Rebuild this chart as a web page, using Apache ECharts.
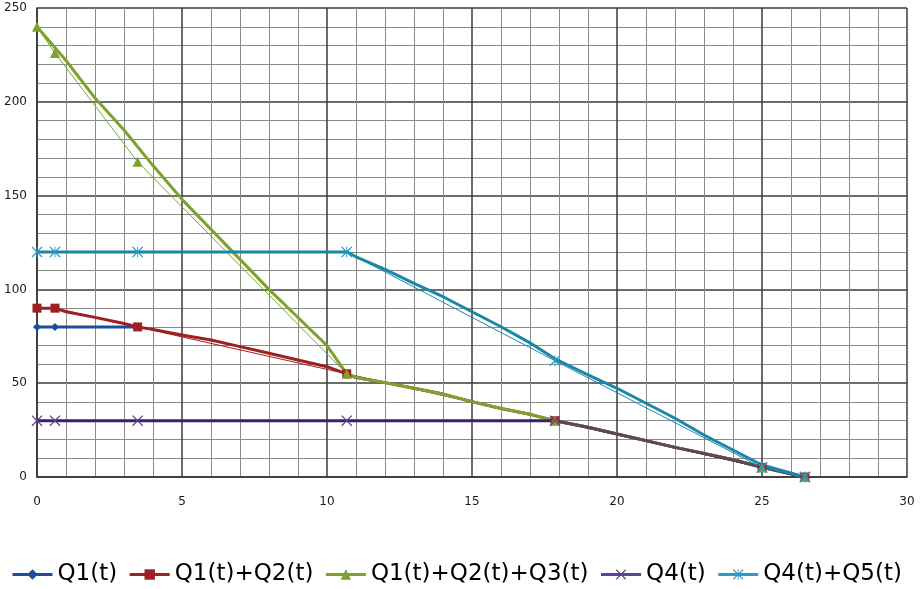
<!DOCTYPE html>
<html>
<head>
<meta charset="utf-8">
<script src="https://cdn.jsdelivr.net/npm/echarts@6/dist/echarts.min.js"></script>
<style>
    html, body { margin: 0; padding: 0; background: #fff; }
    #chart { width: 923px; height: 589px; }
</style>
</head>
<body>
<div id="chart"></div>
<script>
    var names = ['Q1(t)', 'Q1(t)+Q2(t)', 'Q1(t)+Q2(t)+Q3(t)', 'Q4(t)', 'Q4(t)+Q5(t)'];

    // points with markers (thin straight lines)
    var markT = [0, 0.62, 3.47, 10.68, 17.86, 25, 26.48];
    var q1Mark = [80, 80, 80];
    var q12Mark = [90, 90, 80, 55, 30, 5, 0];
    var q123Mark = [240, 226, 168, 55, 30, 5, 0];
    var q4Mark = [30, 30, 30, 30, 30, 5, 0];
    var q45Mark = [120, 120, 120, 120, 62, 5, 0];

    // simulated (thick) curves
    var q1SimT = [0, 3.47];
    var q1SimY = [80, 80];

    var q12SimT = [0, 0.62, 1, 2, 3, 3.47, 4, 5, 6, 7, 8, 9, 10];
    var q12SimY = [90, 90, 88.1, 85.1, 81.8, 80, 78.7, 75.7, 73, 69.5, 66, 62.4, 58.8];

    var q123SimT = [0, 1, 2, 3, 4, 5, 6, 7, 8, 9, 10];
    var q123SimY = [240, 222, 202, 185, 166, 148, 132, 116, 100, 85, 70];

    // common tail after t = 10.68
    var tailT = [10.68, 11, 12, 13, 14, 15, 16, 17, 17.86, 19, 20, 21, 22, 23, 24, 25, 26.48];
    var tailY = [55, 53, 50.3, 47.3, 44.2, 40.2, 36.5, 33.4, 30, 26.5, 22.9, 19.4, 15.8, 12.6, 9.2, 5.2, 0];

    var q4SimT = [0, 17.86];
    var q4SimY = [30, 30];
    // where every curve runs together (drawn greyish)
    var lowT = [17.86, 19, 20, 21, 22, 23, 24, 25, 26.48];
    var lowY = [30, 26.5, 22.9, 19.4, 15.8, 12.6, 9.2, 5.2, 0];

    var q45SimT = [0, 10.68, 11, 12, 13, 14, 15, 16, 17, 17.86, 19, 20, 21, 22, 23, 24, 25, 26.48];
    var q45SimY = [120, 120, 117.4, 110.7, 103.2, 96.1, 88.1, 80.1, 71.5, 63, 54.4, 47.3, 39.3, 31.3, 22.4, 14.4, 6.4, 0];

    var colors = ['#1b4f9c', '#9e2020', '#7ba32e', '#3d2069', '#1c86a8'];
    var markColors = ['#1b4f9c', '#9e2020', '#7ba32e', '#5e4390', '#2a9cc0'];
    var xMark = 'path://M0,0.8L0.8,0L5,4.2L9.2,0L10,0.8L5.8,5L10,9.2L9.2,10L5,5.8L0.8,10L0,9.2L4.2,5Z';
    var starMark = 'path://M0,0.8L0.8,0L5,4.2L9.2,0L10,0.8L5.8,5L10,9.2L9.2,10L5,5.8L0.8,10L0,9.2L4.2,5Z M4.6,0L5.4,0L5.4,10L4.6,10Z';
    var symbols = ['diamond', 'rect', 'triangle', xMark, starMark];
    var symbolSizes = [8, 9, 10, 11, 11];

    function zip(t, y) {
        var out = [];
        for (var i = 0; i < y.length; i++) {
            out.push([t[i], y[i]]);
        }
        return out;
    }

    var marks = [
        zip(markT, q1Mark),
        zip(markT, q12Mark),
        zip(markT, q123Mark),
        zip(markT, q4Mark),
        zip(markT, q45Mark)
    ];
    var sims = [
        zip(q1SimT, q1SimY),
        zip(q12SimT, q12SimY).concat(zip(tailT, tailY)),
        zip(q123SimT, q123SimY).concat(zip(tailT, tailY)),
        zip(q4SimT, q4SimY),
        zip(q45SimT, q45SimY)
    ];

    var series = [];
    for (var k = 0; k < names.length; k++) {
        // thin line with markers (first, so the legend uses it)
        series.push({
            name: names[k],
            type: 'line',
            data: marks[k],
            symbol: symbols[k],
            symbolSize: symbolSizes[k],
            showAllSymbol: true,
            color: colors[k],
            lineStyle: {width: 1, color: colors[k]},
            itemStyle: {color: markColors[k]},
            animation: false
        });
        // thick simulated curve
        series.push({
            name: names[k],
            type: 'line',
            data: sims[k],
            symbol: 'none',
            color: colors[k],
            lineStyle: {width: 3, color: colors[k]},
            animation: false
        });
        if (k == 3) {
            series.push({
                name: names[k],
                type: 'line',
                data: zip(lowT, lowY),
                symbol: 'none',
                color: '#5b4859',
                lineStyle: {width: 3, color: '#5b4859'},
                animation: false
            });
        }
    }

    var legendData = [];
    for (var j = 0; j < names.length; j++) {
        legendData.push({name: names[j], lineStyle: {width: 3, color: markColors[j]}});
    }

    var option = {
        backgroundColor: '#fff',
        grid: {left: 37, right: 16, top: 8, bottom: 112},
        legend: {
            data: legendData,
            left: 6,
            top: 558,
            itemWidth: 40,
            itemHeight: 13,
            itemGap: 11,
            textStyle: {fontFamily: 'DejaVu Sans', fontSize: 23, color: '#000'}
        },
        xAxis: {
            type: 'value',
            min: 0,
            max: 30,
            interval: 5,
            axisLine: {show: true, lineStyle: {color: '#333', width: 1.5}},
            axisTick: {show: false},
            axisLabel: {margin: 19, fontFamily: 'DejaVu Sans', fontSize: 12, color: '#1a1a1a'},
            splitLine: {show: true, lineStyle: {color: '#3c3c3c', width: 1.5}},
            minorTick: {show: false, splitNumber: 5},
            minorSplitLine: {show: true, lineStyle: {color: '#8a8a8a', width: 1}}
        },
        yAxis: {
            type: 'value',
            min: 0,
            max: 250,
            interval: 50,
            axisLine: {show: true, lineStyle: {color: '#333', width: 1.5}},
            axisTick: {show: false},
            axisLabel: {margin: 10, fontFamily: 'DejaVu Sans', fontSize: 12, color: '#1a1a1a'},
            splitLine: {show: true, lineStyle: {color: '#3c3c3c', width: 1.5}},
            minorTick: {show: false, splitNumber: 5},
            minorSplitLine: {show: true, lineStyle: {color: '#8a8a8a', width: 1}}
        },
        series: series
    };

    var myChart = echarts.init(document.getElementById('chart'));
    myChart.setOption(option);
</script>
</body>
</html>
